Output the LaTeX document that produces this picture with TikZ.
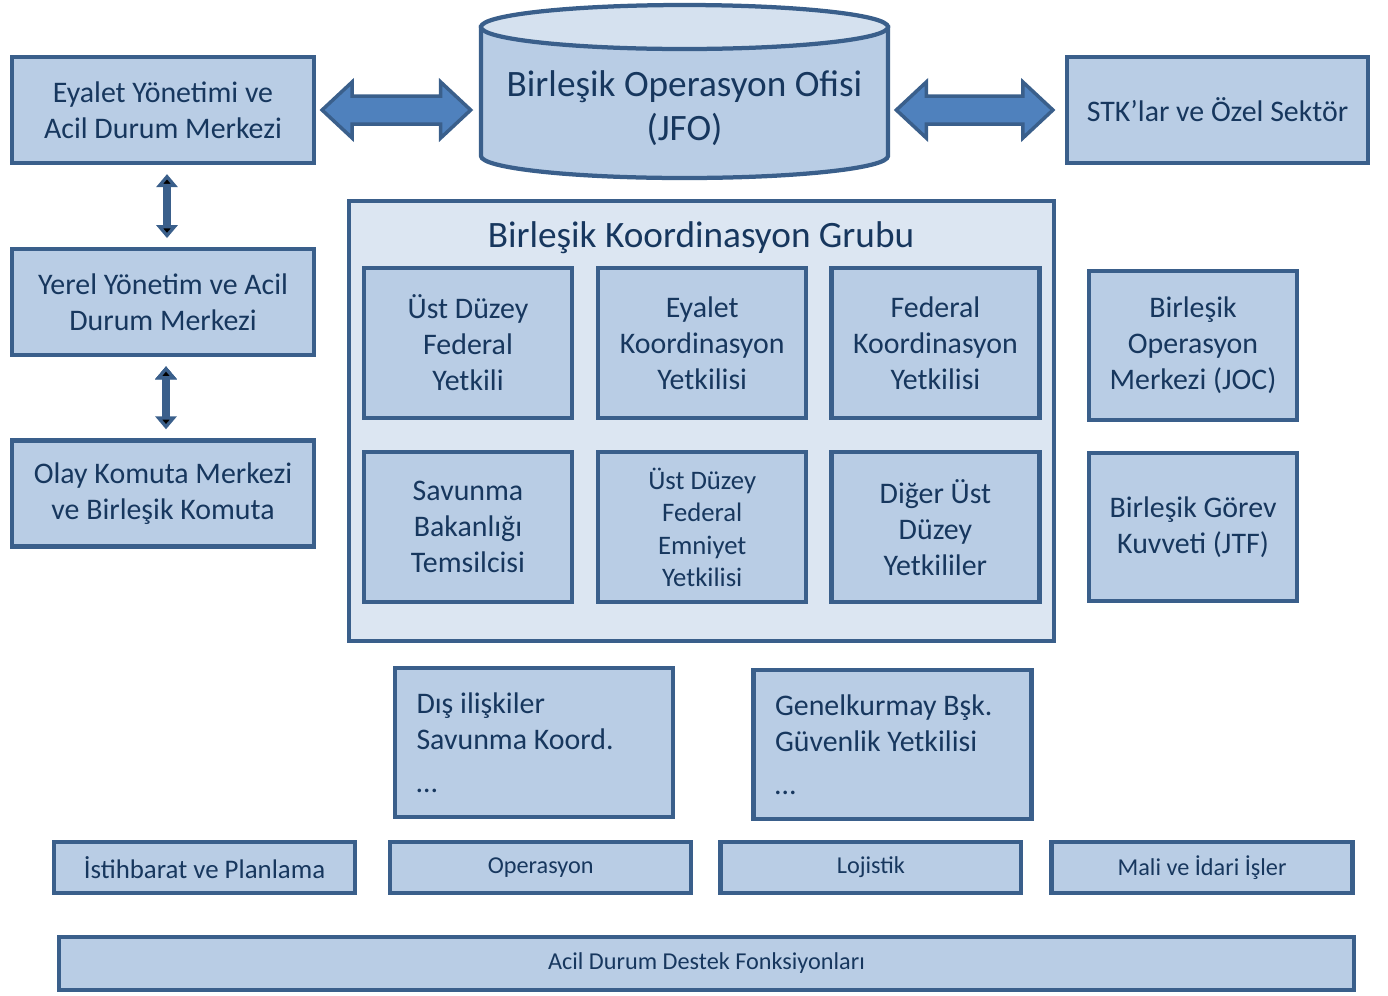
\documentclass[tikz,border=0pt]{standalone}
\usepackage{fontspec}
\setmainfont{Carlito}
\usepackage{xcolor}
\usepackage{tikz}
\usetikzlibrary{calc, positioning, arrows.meta}

\definecolor{boxline}{HTML}{3A5F8B}
\definecolor{boxfill}{HTML}{B9CDE5}
\definecolor{grpfill}{HTML}{DCE6F2}
\definecolor{toplight}{HTML}{D5E1EF}
\definecolor{boxtext}{HTML}{17375E}
\definecolor{arrowfill}{HTML}{4F81BD}

% fat double arrow between two coordinates on one line
\newcommand{\fatarrow}[2]{%
  \draw[fat arrow] (#1) -- ($(#1)+(30,-28)$) -- ($(#1)+(30,-14)$) -- ($(#2)+(-30,-14)$)
    -- ($(#2)+(-30,-28)$) -- (#2) -- ($(#2)+(-30,28)$) -- ($(#2)+(-30,14)$)
    -- ($(#1)+(30,14)$) -- ($(#1)+(30,28)$) -- cycle;}

\begin{document}
\begin{tikzpicture}[x=0.02cm,y=-0.02cm,
                    main box/.style={rectangle,draw=boxline,fill=boxfill,line width=0.085cm,text=boxtext,
                      align=center,inner sep=0pt,font=\fontsize{17}{20.5}\selectfont},
                    side box/.style={main box,minimum width=6.04cm,minimum height=2.12cm},
                    cell box/.style={main box,minimum width=4.16cm,minimum height=3.0cm},
                    note box/.style={main box,minimum width=5.56cm,minimum height=2.98cm,text width=4.7cm,align=flush left},
                    strip box/.style={main box,minimum width=6.02cm,minimum height=1.02cm,font=\fontsize{13.8}{16}\selectfont},
                    big text/.style={text=boxtext,align=center,inner sep=0pt,font=\fontsize{21.2}{25}\selectfont},
                    fat arrow/.style={fill=arrowfill,draw=boxline,line width=0.07cm},
                    updown/.style={draw=boxline,line width=0.16cm,{Triangle[width=0.42cm,length=0.26cm]}-{Triangle[width=0.42cm,length=0.26cm]},
                      shorten <=0.18cm,shorten >=0.18cm}]

  \useasboundingbox (0,0) rectangle (1388,995);

  % joint field office
  \path[draw=boxline,fill=boxfill,line width=0.085cm] (481,27) -- (481,156)
    arc[start angle=180,end angle=0,x radius=203.5,y radius=22] -- (888,27) -- cycle;
  \path[draw=boxline,fill=toplight,line width=0.085cm] (684.5,27) ellipse[x radius=203.5,y radius=22];
  \node[big text,minimum width=8.14cm] (jfo) at (684.5,108) {Birleşik Operasyon Ofisi\\(JFO)};

  \node[side box] (eyalet) at (163,110) {Eyalet Yönetimi ve\\Acil Durum Merkezi};
  \node[side box] (yerel) [below=1.64cm of eyalet] {Yerel Yönetim ve Acil\\Durum Merkezi};
  \node[side box] (olay) [below=1.62cm of yerel] {Olay Komuta Merkezi\\ve Birleşik Komuta};
  \node[side box,minimum width=6.02cm] (stk) at (1217.5,110) {STK’lar ve Özel Sektör};

  % coordination group
  \node[main box,fill=grpfill,line width=0.065cm,minimum width=14.1cm,minimum height=8.8cm] (grp) at (701.5,421) {};
  \node[big text] (grptitle) at (701,238) {Birleşik Koordinasyon Grubu};

  \node[cell box] (ust) at (468,343) {Üst Düzey\\Federal\\Yetkili};
  \node[cell box] (eyk) [right=0.44cm of ust] {Eyalet\\Koordinasyon\\Yetkilisi};
  \node[cell box] (fed) [right=0.42cm of eyk] {Federal\\Koordinasyon\\Yetkilisi};
  \node[cell box] (sav) [below=0.6cm of ust] {Savunma\\Bakanlığı\\Temsilcisi};
  \node[cell box,font=\fontsize{15.2}{18.4}\selectfont] (emn) [below=0.6cm of eyk] {Üst Düzey\\Federal\\Emniyet\\Yetkilisi};
  \node[cell box] (dig) [below=0.6cm of fed] {Diğer Üst\\Düzey\\Yetkililer};

  \node[cell box,minimum height=2.98cm] (joc) at (1193,345.5) {Birleşik\\Operasyon\\Merkezi (JOC)};
  \node[cell box,minimum height=2.96cm] (jtf) [below=0.58cm of joc] {Birleşik Görev\\Kuvveti (JTF)};

  \node[note box] (dis) at (534,742.5) {Dış ilişkiler\\Savunma Koord.\\[4pt]…};
  \node[note box] (genel) at (892.5,744.5) {Genelkurmay Bşk.\\Güvenlik Yetkilisi\\[4pt]…};

  % support functions
  \node[strip box,font=\fontsize{15.3}{17}\selectfont] (istih) at (204.5,867.5) {İstihbarat ve Planlama};
  \node[strip box] (oper) [right=0.62cm of istih] {Operasyon};
  \node[strip box] (loj) [right=0.5cm of oper] {Lojistik};
  \node[strip box] (mali) [right=0.52cm of loj] {Mali ve İdari İşler};
  \node[strip box,minimum width=25.9cm,minimum height=1.06cm] (acil) at (706.5,963.5) {Acil Durum Destek Fonksiyonları};

  \path[updown]
    ([xshift=0.08cm]eyalet.south) edge ([xshift=0.08cm]yerel.north)
    ([xshift=0.06cm]yerel.south) edge ([xshift=0.06cm]olay.north);

  \coordinate (l1) at ($(eyalet.east)+(6,0)$);
  \coordinate (l2) at ($(eyalet.east -| jfo.west)+(-10,0)$);
  \coordinate (r1) at ($(stk.west -| jfo.east)+(8,0)$);
  \coordinate (r2) at ($(stk.west)+(-12,0)$);
  \fatarrow{l1}{l2}
  \fatarrow{r1}{r2}

\end{tikzpicture}
\end{document}
